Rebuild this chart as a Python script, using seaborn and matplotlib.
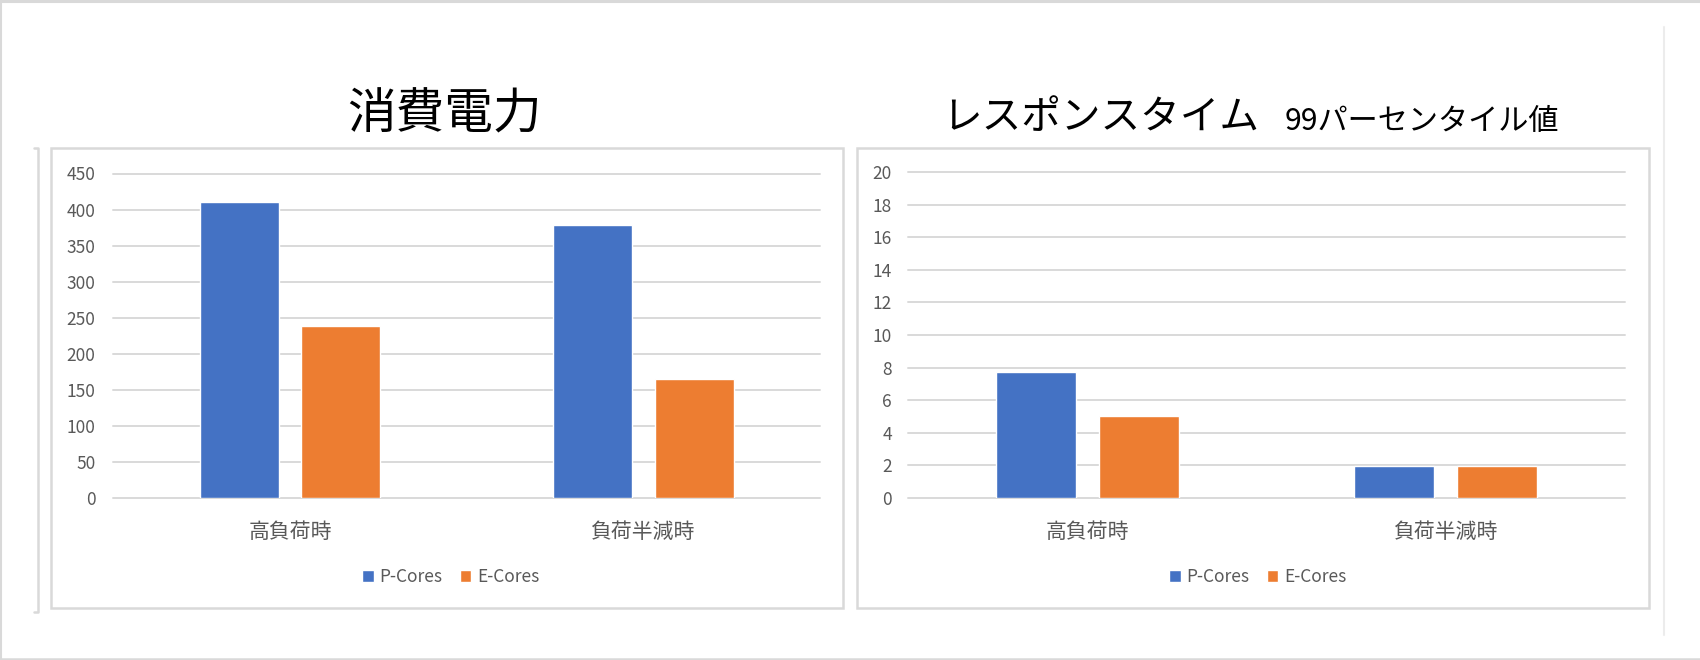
import matplotlib
matplotlib.use('Agg')
import matplotlib.pyplot as plt
import seaborn as sns
import pandas as pd
from matplotlib.patches import Rectangle
from matplotlib.lines import Line2D

# ---- data ----
categories = ['高負荷時', '負荷半減時']
series = ['P-Cores', 'E-Cores']
power_p = [410, 378]
power_e = [238, 165]
resp_p = [7.75, 1.95]
resp_e = [5.0, 1.95]
power_ticks = [0, 50, 100, 150, 200, 250, 300, 350, 400, 450]
resp_ticks = [0, 2, 4, 6, 8, 10, 12, 14, 16, 18, 20]
title_left = '消費電力'
title_right = 'レスポンスタイム'
subtitle_right = '99パーセンタイル値'

sns.set_style('white')
plt.rcParams['font.family'] = ['Noto Sans CJK JP', 'DejaVu Sans']

W, H = 1700, 660
fig = plt.figure(figsize=(W / 100, H / 100), dpi=100)


def fx(x):
    return x / W


def fy(y):
    return 1 - y / H


palette = {'P-Cores': '#4472C4', 'E-Cores': '#ED7D31'}
GRID = '#d9d9d9'
TXT = '#595959'


def make_df(p, e):
    return pd.DataFrame({
        'cat': categories * 2,
        'series': [series[0]] * len(categories) + [series[1]] * len(categories),
        'val': list(p) + list(e),
    })


def panel(box, df, ticks, tickpad, legend_cx):
    ax = fig.add_axes(box)
    sns.barplot(data=df, x='cat', y='val', hue='series', hue_order=series,
                order=categories, palette=palette, width=0.574, gap=0.22,
                saturation=1, ax=ax, legend=True)
    ax.set_xlim(-0.5, len(categories) - 0.5)
    ax.set_ylim(ticks[0], ticks[-1])
    ax.set_yticks(ticks)
    ax.grid(axis='y', color=GRID, lw=1.4)
    ax.grid(axis='x', visible=False)
    ax.set_axisbelow(True)
    for gl in ax.get_ygridlines():
        gl.set_clip_on(False)
    for s in ax.spines.values():
        s.set_visible(False)
    ax.tick_params(axis='y', length=0, pad=tickpad, labelsize=12.5, labelcolor=TXT)
    ax.tick_params(axis='x', length=0, pad=17, labelsize=15, labelcolor=TXT)
    ax.set_xlabel('')
    ax.set_ylabel('')
    handles, labels = ax.get_legend_handles_labels()
    if ax.get_legend() is not None:
        ax.get_legend().remove()
    fig.legend(handles, labels, loc='center', bbox_to_anchor=(fx(legend_cx), fy(577)),
               ncol=2, frameon=False, handlelength=0.65, handleheight=0.65,
               handletextpad=0.35, columnspacing=1.0, fontsize=12.5, labelcolor=TXT)
    return ax


# panel frames
for x0, x1 in [(51, 843), (857, 1649)]:
    fig.add_artist(Rectangle((fx(x0), fy(608)), fx(x1) - fx(x0), (608 - 148) / H,
                             transform=fig.transFigure, fill=False, ec=GRID, lw=1.8))

# outer decoration lines
fig.add_artist(Line2D([0, 1], [fy(1), fy(1)], transform=fig.transFigure, color=GRID, lw=2.2))
fig.add_artist(Line2D([fx(0.8), fx(0.8)], [0, 1], transform=fig.transFigure, color=GRID, lw=1.5))
fig.add_artist(Line2D([0, 1], [fy(658.5), fy(658.5)], transform=fig.transFigure, color=GRID, lw=1.8))
fig.add_artist(Line2D([fx(1664), fx(1664)], [fy(27), fy(635)], transform=fig.transFigure,
                      color='#ececec', lw=1.5))
fig.add_artist(Line2D([fx(34), fx(38), fx(38), fx(34)], [fy(148), fy(148), fy(612), fy(612)],
                      transform=fig.transFigure, color=GRID, lw=1.8))

panel([fx(113.5), fy(497.6), (820 - 113.5) / W, (497.6 - 173.5) / H],
      make_df(power_p, power_e), power_ticks, 13, 451)
panel([fx(908), fy(497.6), (1625 - 908) / W, (497.6 - 172.4) / H],
      make_df(resp_p, resp_e), resp_ticks, 11.5, 1258)

# titles
fig.text(fx(444), fy(115), title_left, ha='center', va='center', fontsize=35, color='black')
fig.text(fx(942), fy(118), title_right, ha='left', va='center', fontsize=28.5, color='black')
fig.text(fx(1285), fy(121), subtitle_right, ha='left', va='center', fontsize=21.7, color='black')

fig.savefig('out.png', dpi=100)
